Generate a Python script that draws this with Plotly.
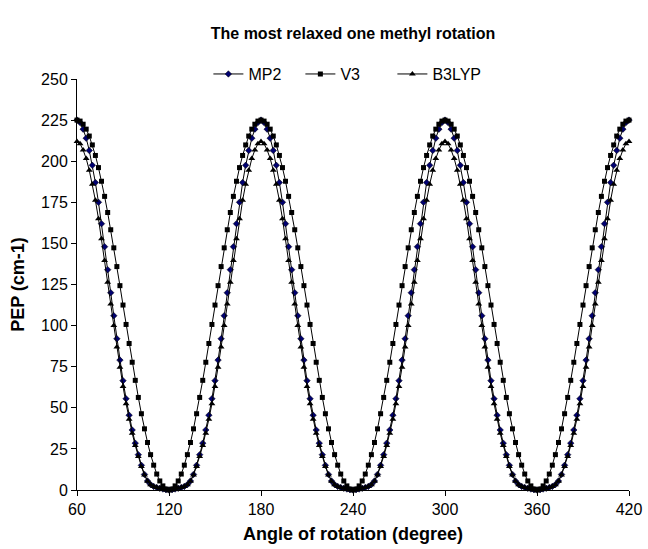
import plotly.graph_objects as go

angle = list(range(60, 421, 2))

mp2 = [
    225.0, 223.5, 219.5, 214.0, 206.5, 197.5, 187.0, 175.0, 162.0, 148.0, 134.0, 120.0, 106.0, 92.0, 79.0, 66.5,
    55.5, 45.5, 36.5, 28.5, 21.5, 15.0, 9.5, 5.5, 3.3, 2.2, 1.5, 1.0, 0.6, 0.2, 0.0,
    0.2, 0.6, 1.0, 1.5, 2.2, 3.3, 5.5, 9.5, 15.0, 21.5, 28.5, 36.5, 45.5, 55.5, 66.5, 79.0, 92.0, 106.0,
    120.0, 134.0, 148.0, 162.0, 175.0, 187.0, 197.5, 206.5, 214.0, 219.5, 223.5, 225.0,
    223.5, 219.5, 214.0, 206.5, 197.5, 187.0, 175.0, 162.0, 148.0, 134.0, 120.0, 106.0, 92.0, 79.0, 66.5,
    55.5, 45.5, 36.5, 28.5, 21.5, 15.0, 9.5, 5.5, 3.3, 2.2, 1.5, 1.0, 0.6, 0.2, 0.0,
    0.2, 0.6, 1.0, 1.5, 2.2, 3.3, 5.5, 9.5, 15.0, 21.5, 28.5, 36.5, 45.5, 55.5, 66.5, 79.0, 92.0, 106.0,
    120.0, 134.0, 148.0, 162.0, 175.0, 187.0, 197.5, 206.5, 214.0, 219.5, 223.5, 225.0,
    223.5, 219.5, 214.0, 206.5, 197.5, 187.0, 175.0, 162.0, 148.0, 134.0, 120.0, 106.0, 92.0, 79.0, 66.5,
    55.5, 45.5, 36.5, 28.5, 21.5, 15.0, 9.5, 5.5, 3.3, 2.2, 1.5, 1.0, 0.6, 0.2, 0.0,
    0.2, 0.6, 1.0, 1.5, 2.2, 3.3, 5.5, 9.5, 15.0, 21.5, 28.5, 36.5, 45.5, 55.5, 66.5, 79.0, 92.0, 106.0,
    120.0, 134.0, 148.0, 162.0, 175.0, 187.0, 197.5, 206.5, 214.0, 219.5, 223.5, 225.0,
]

v3 = [
    225.0, 224.4, 222.5, 219.5, 215.3, 209.9, 203.5, 196.1, 187.8, 178.6, 168.8, 158.3, 147.3, 135.9, 124.3, 112.5,
    100.7, 89.1, 77.7, 66.7, 56.3, 46.4, 37.2, 28.9, 21.5, 15.1, 9.7, 5.5, 2.5, 0.6, 0.0,
    0.6, 2.5, 5.5, 9.7, 15.1, 21.5, 28.9, 37.2, 46.4, 56.3, 66.7, 77.7, 89.1, 100.7, 112.5, 124.3, 135.9, 147.3,
    158.3, 168.8, 178.6, 187.8, 196.1, 203.5, 209.9, 215.3, 219.5, 222.5, 224.4, 225.0,
    224.4, 222.5, 219.5, 215.3, 209.9, 203.5, 196.1, 187.8, 178.6, 168.8, 158.3, 147.3, 135.9, 124.3, 112.5,
    100.7, 89.1, 77.7, 66.7, 56.3, 46.4, 37.2, 28.9, 21.5, 15.1, 9.7, 5.5, 2.5, 0.6, 0.0,
    0.6, 2.5, 5.5, 9.7, 15.1, 21.5, 28.9, 37.2, 46.4, 56.3, 66.7, 77.7, 89.1, 100.7, 112.5, 124.3, 135.9, 147.3,
    158.3, 168.8, 178.6, 187.8, 196.1, 203.5, 209.9, 215.3, 219.5, 222.5, 224.4, 225.0,
    224.4, 222.5, 219.5, 215.3, 209.9, 203.5, 196.1, 187.8, 178.6, 168.8, 158.3, 147.3, 135.9, 124.3, 112.5,
    100.7, 89.1, 77.7, 66.7, 56.3, 46.4, 37.2, 28.9, 21.5, 15.1, 9.7, 5.5, 2.5, 0.6, 0.0,
    0.6, 2.5, 5.5, 9.7, 15.1, 21.5, 28.9, 37.2, 46.4, 56.3, 66.7, 77.7, 89.1, 100.7, 112.5, 124.3, 135.9, 147.3,
    158.3, 168.8, 178.6, 187.8, 196.1, 203.5, 209.9, 215.3, 219.5, 222.5, 224.4, 225.0,
]

b3lyp = [
    212.0, 210.6, 206.8, 201.6, 194.5, 186.0, 176.2, 165.0, 152.8, 139.6, 126.4, 113.2, 100.0, 87.0, 74.7, 63.0,
    52.5, 43.0, 34.5, 27.0, 20.4, 14.3, 9.1, 5.3, 3.2, 2.1, 1.5, 1.0, 0.6, 0.2, 0.0,
    0.2, 0.6, 1.0, 1.5, 2.1, 3.2, 5.3, 9.1, 14.3, 20.4, 27.0, 34.5, 43.0, 52.5, 63.0, 74.7, 87.0, 100.0,
    113.2, 126.4, 139.6, 152.8, 165.0, 176.2, 186.0, 194.5, 201.6, 206.8, 210.6, 212.0,
    210.6, 206.8, 201.6, 194.5, 186.0, 176.2, 165.0, 152.8, 139.6, 126.4, 113.2, 100.0, 87.0, 74.7, 63.0,
    52.5, 43.0, 34.5, 27.0, 20.4, 14.3, 9.1, 5.3, 3.2, 2.1, 1.5, 1.0, 0.6, 0.2, 0.0,
    0.2, 0.6, 1.0, 1.5, 2.1, 3.2, 5.3, 9.1, 14.3, 20.4, 27.0, 34.5, 43.0, 52.5, 63.0, 74.7, 87.0, 100.0,
    113.2, 126.4, 139.6, 152.8, 165.0, 176.2, 186.0, 194.5, 201.6, 206.8, 210.6, 212.0,
    210.6, 206.8, 201.6, 194.5, 186.0, 176.2, 165.0, 152.8, 139.6, 126.4, 113.2, 100.0, 87.0, 74.7, 63.0,
    52.5, 43.0, 34.5, 27.0, 20.4, 14.3, 9.1, 5.3, 3.2, 2.1, 1.5, 1.0, 0.6, 0.2, 0.0,
    0.2, 0.6, 1.0, 1.5, 2.1, 3.2, 5.3, 9.1, 14.3, 20.4, 27.0, 34.5, 43.0, 52.5, 63.0, 74.7, 87.0, 100.0,
    113.2, 126.4, 139.6, 152.8, 165.0, 176.2, 186.0, 194.5, 201.6, 206.8, 210.6, 212.0,
]

x_ticks = [60, 120, 180, 240, 300, 360, 420]
y_ticks = [0, 25, 50, 75, 100, 125, 150, 175, 200, 225, 250]

FONT = "Liberation Sans, Arial, sans-serif"

fig = go.Figure()
fig.add_trace(go.Scatter(
    x=angle, y=mp2, name="MP2", mode="lines+markers",
    line=dict(color="black", width=1),
    marker=dict(symbol="diamond", size=5, color="#000070", line=dict(color="black", width=0.5)),
    cliponaxis=False,
))
fig.add_trace(go.Scatter(
    x=angle, y=v3, name="V3", mode="lines+markers",
    line=dict(color="black", width=1),
    marker=dict(symbol="square", size=5, color="black"),
    cliponaxis=False,
))
fig.add_trace(go.Scatter(
    x=angle, y=b3lyp, name="B3LYP", mode="lines+markers",
    line=dict(color="black", width=1),
    marker=dict(symbol="triangle-up", size=6, color="black"),
    cliponaxis=False,
))

fig.update_layout(
    width=648, height=549,
    margin=dict(l=77, r=19, t=79, b=59),
    paper_bgcolor="white", plot_bgcolor="white",
    font=dict(family=FONT, size=16, color="black"),
    title=dict(text="<b>The most relaxed one methyl rotation</b>", x=0.5, xref="paper",
               y=1 - 33 / 549, yref="container", yanchor="middle", font=dict(size=16)),
    showlegend=True,
    legend=dict(orientation="h", x=0.238, xanchor="left", y=1.012, yanchor="middle",
                font=dict(size=16), bgcolor="rgba(0,0,0,0)", itemwidth=30, tracegroupgap=0,
                entrywidth=47, entrywidthmode="pixels"),
    xaxis=dict(range=[60, 420], tickvals=x_ticks, ticktext=[str(v) for v in x_ticks],
               showgrid=False, zeroline=False, showline=True, linecolor="black", linewidth=1,
               ticks="outside", ticklen=5, tickcolor="black", tickfont=dict(size=16),
               automargin=False,
               title=dict(text="<b>Angle of rotation (degree)</b>", font=dict(size=18), standoff=10)),
    yaxis=dict(range=[0, 250], tickvals=y_ticks, ticktext=[str(v) for v in y_ticks],
               showgrid=False, zeroline=False, showline=True, linecolor="black", linewidth=1,
               ticks="outside", ticklen=5, tickcolor="black", tickfont=dict(size=16),
               automargin=False,
               title=dict(text="<b>PEP (cm-1)</b>", font=dict(size=18), standoff=11)),
)

fig.write_html("out.html")
